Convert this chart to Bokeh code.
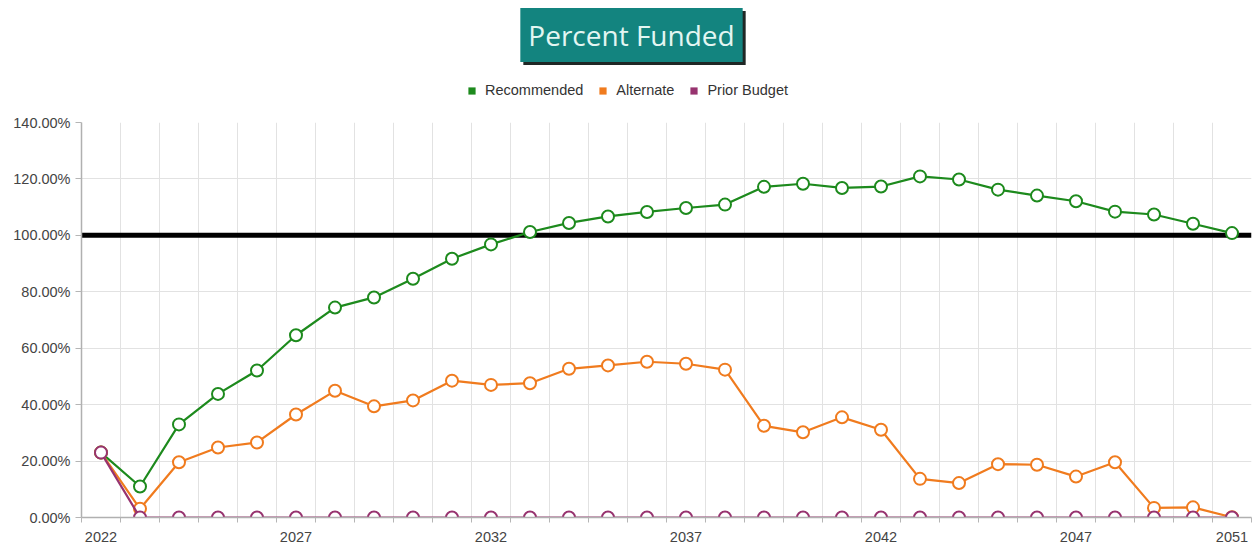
from bokeh.plotting import figure
from bokeh.layouts import column
from bokeh.models import (Label, Span, Range1d, FixedTicker, PrintfTickFormatter,
                          Legend, LegendItem)
from bokeh.embed import file_html
from bokeh.resources import INLINE

# ---------------- data ----------------
years = [2022, 2023, 2024, 2025, 2026, 2027, 2028, 2029, 2030, 2031,
         2032, 2033, 2034, 2035, 2036, 2037, 2038, 2039, 2040, 2041,
         2042, 2043, 2044, 2045, 2046, 2047, 2048, 2049, 2050, 2051]
recommended = [23.0, 11.0, 33.0, 43.8, 52.1, 64.6, 74.4, 78.0, 84.6, 91.7,
               96.8, 101.2, 104.4, 106.7, 108.3, 109.7, 110.9, 117.2, 118.3, 116.8,
               117.3, 120.9, 119.8, 116.2, 114.1, 112.1, 108.4, 107.4, 104.1, 100.8]
alternate = [23.0, 3.1, 19.6, 24.8, 26.6, 36.5, 44.9, 39.4, 41.5, 48.5,
             47.0, 47.6, 52.7, 53.9, 55.2, 54.5, 52.4, 32.5, 30.2, 35.5,
             31.1, 13.7, 12.2, 18.9, 18.7, 14.5, 19.6, 3.4, 3.6, 0.1]
prior_budget = [23.0, 0, 0, 0, 0, 0, 0, 0, 0, 0,
                0, 0, 0, 0, 0, 0, 0, 0, 0, 0,
                0, 0, 0, 0, 0, 0, 0, 0, 0, 0]
series_names = ["Recommended", "Alternate", "Prior Budget"]
series_colors = ["#1d8a1d", "#f07b1e", "#97336f"]
label_years = [2022, 2027, 2032, 2037, 2042, 2047, 2051]
y_ticks = [0, 20, 40, 60, 80, 100, 120, 140]
target = 100
title_text = "Percent Funded"

boundaries = [y - 0.5 for y in years] + [years[-1] + 0.5]

FONT = "Liberation Sans"
W = 1256
LEFT, RIGHT = 81, 5
TOP_H = 112
MAIN_H = 433
NAN = float("nan")

# ---------------- header (title + legend) ----------------
head = figure(width=W, height=TOP_H, x_range=Range1d(LEFT, W - RIGHT),
              y_range=Range1d(0, TOP_H),
              x_axis_type=None, y_axis_type=None, output_backend="svg",
              toolbar_location=None, min_border_left=LEFT, min_border_right=RIGHT,
              min_border_top=0, min_border_bottom=0,
              background_fill_color="white", border_fill_color="white")
head.outline_line_color = None
head.grid.visible = False

SHADOW = "#1f2725"
shadow = Label(x=634, y=74.5, text=title_text,
               text_font="Open Sans", text_font_size="28px", text_color=SHADOW,
               text_align="center", text_baseline="middle",
               background_fill_color=SHADOW, padding=8)
title = Label(x=631, y=77.5, text=title_text,
              text_font="Open Sans", text_font_size="28px", text_color="#e3f6f2",
              text_align="center", text_baseline="middle",
              background_fill_color="#13847f", padding=8)
head.add_layout(shadow)
head.add_layout(title)

legend_items = []
for name, col in zip(series_names, series_colors):
    q = head.quad(left=[NAN], right=[NAN], top=[NAN], bottom=[NAN],
                  fill_color=col, line_color=None)
    legend_items.append(LegendItem(label=name, renderers=[q]))
legend = Legend(items=legend_items, orientation="horizontal", location=(386, 14),
                glyph_width=9, glyph_height=9, label_standoff=9, spacing=15,
                padding=0, margin=0, border_line_color=None, background_fill_alpha=0,
                label_text_font=FONT, label_text_font_size="14.5px",
                label_text_color="#333333", label_height=14)
head.add_layout(legend)

# ---------------- main chart ----------------
p = figure(width=W, height=MAIN_H,
           x_range=Range1d(years[0] - 0.5, years[-1] + 0.5),
           y_range=Range1d(0, 140),
           output_backend="svg", toolbar_location=None,
           min_border_left=LEFT, min_border_right=RIGHT,
           min_border_top=10, min_border_bottom=28,
           background_fill_color="white", border_fill_color="white")
p.outline_line_color = None

p.xaxis.ticker = FixedTicker(ticks=label_years, minor_ticks=boundaries)
p.xaxis.major_tick_line_color = None
p.xaxis.major_tick_out = 5
p.xaxis.minor_tick_in = 0
p.xaxis.minor_tick_out = 5
p.xaxis.minor_tick_line_color = "#b5b5b5"
p.xaxis.major_label_standoff = 9

p.yaxis.ticker = FixedTicker(ticks=y_ticks)
p.yaxis.formatter = PrintfTickFormatter(format="%.2f%%")
p.yaxis.major_tick_in = 0
p.yaxis.major_tick_out = 6
p.yaxis.major_tick_line_color = "#b5b5b5"
p.yaxis.minor_tick_line_color = None
p.yaxis.major_label_standoff = 5

for ax in (p.xaxis, p.yaxis):
    ax.axis_line_color = "#b0b0b0"
    ax.axis_line_width = 1.5
    ax.major_label_text_font = FONT
    ax.major_label_text_font_size = "14.5px"
    ax.major_label_text_color = "#444444"

p.xgrid.ticker = FixedTicker(ticks=boundaries)
p.ygrid.ticker = FixedTicker(ticks=y_ticks)
p.xgrid.grid_line_color = "#e2e2e2"
p.ygrid.grid_line_color = "#e2e2e2"

p.add_layout(Span(location=target, dimension="width", line_color="black",
                  line_width=5, level="underlay"))

for vals, col in zip([recommended, alternate, prior_budget], series_colors):
    p.line(years, vals, line_color=col, line_width=2.2)
    p.scatter(years, vals, marker="circle", size=12, line_color=col,
              fill_color="white", line_width=2)

layout = column(head, p, spacing=0)
open("out.html", "w").write(file_html(layout, INLINE))
